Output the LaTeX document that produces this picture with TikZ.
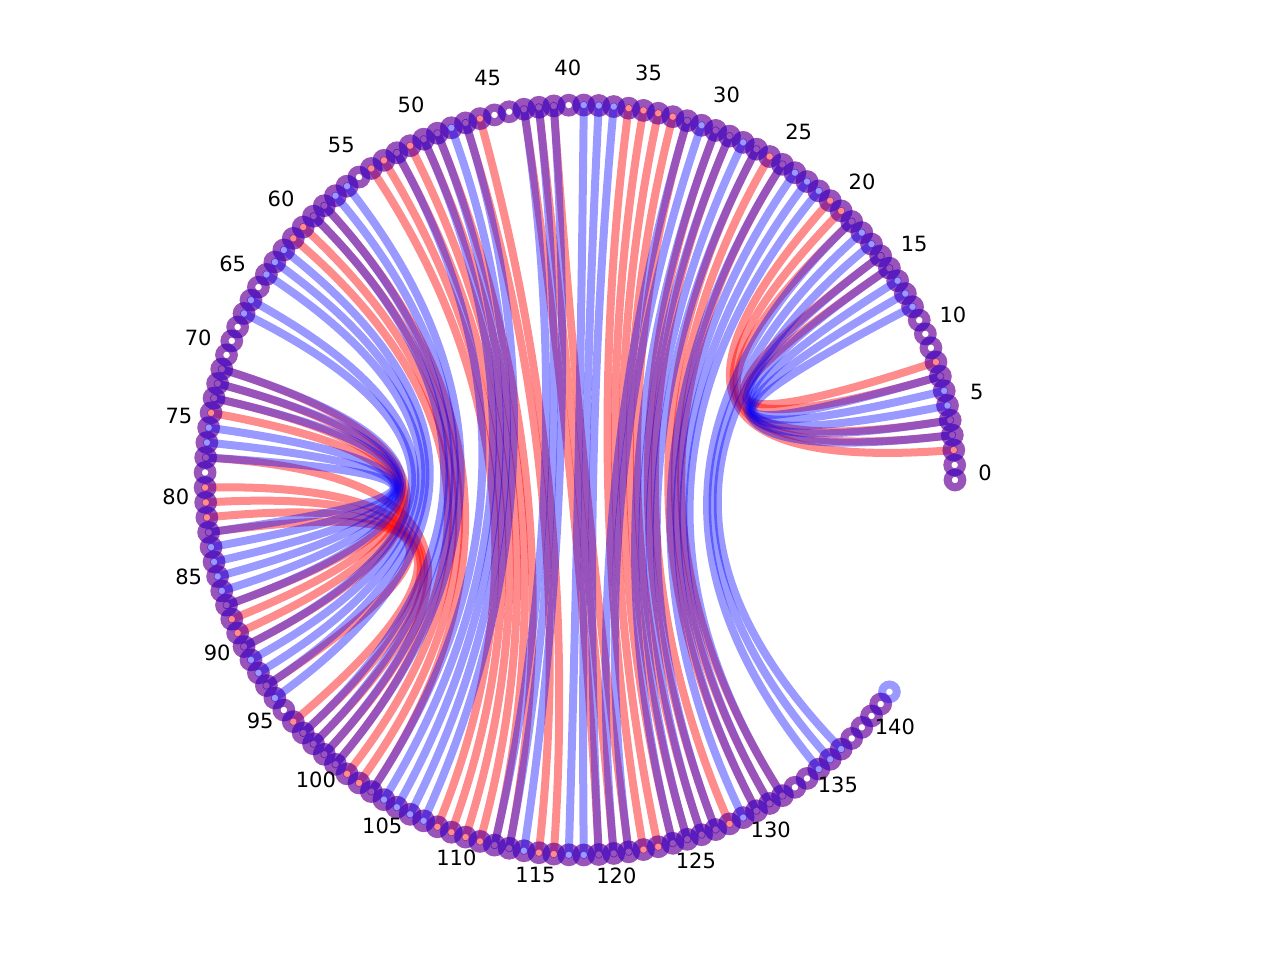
\documentclass[tikz,border=0pt]{standalone}
\usepackage{fontspec}
\setmainfont{DejaVu Sans}
\begin{document}
\begin{tikzpicture}[x=0.5pt,y=0.5pt,
  redchord/.style={draw=red, draw opacity=0.45, line width=4pt, line cap=round},
  bluechord/.style={draw=blue, draw opacity=0.4, line width=4pt, line cap=round},
  redring/.style={draw=red, draw opacity=0.45, line width=4pt},
  bluering/.style={draw=blue, draw opacity=0.4, line width=4pt},
  lbl/.style={font=\fontsize{10.5}{12}\selectfont, inner sep=0pt}]
\useasboundingbox (0,0) rectangle (1280,960);
\begin{scope}[shift={(580,480)}]
\coordinate (c) at (0,0);
\foreach \i in {0,...,142}{
  \pgfmathsetmacro{\a}{\i*2.293}
  \coordinate (n\i) at (\a:375);
  \coordinate (k\i) at (\a:125);
}
% red chords
\foreach \p/\q in {2/21,3/20,4/19,7/16,8/15,
  25/132,26/131,27/130,29/128,30/127,32/126,33/125,34/124,35/123,36/122,
  41/121,42/120,43/119,46/116,47/115,49/113,50/112,51/111,52/110,53/109,54/108,
  58/103,59/102,60/101,61/100,
  71/90,72/89,73/88,74/87,
  77/99,79/98,80/97,81/96,82/93}
  \draw[redchord] (n\p) .. controls (k\p) and (k\q) .. (n\q);
% red rings
\foreach \i in {0,...,141}
  \draw[redring] (n\i) circle (7.3);
% blue chords
\foreach \p/\q in {3/16,4/15,5/14,6/13,7/12,
  17/137,18/136,19/135,
  22/132,23/131,24/130,25/129,27/127,28/126,29/125,30/124,31/121,32/120,
  37/119,38/118,39/117,41/114,42/113,43/112,47/107,48/106,49/105,50/104,
  52/103,56/100,57/99,58/98,59/97,62/94,63/93,64/92,66/91,67/90,
  71/87,72/86,73/85,75/84,76/83,77/82}
  \draw[bluechord] (n\p) .. controls (k\p) and (k\q) .. (n\q);
% blue rings
\foreach \i in {0,...,142}
  \draw[bluering] (n\i) circle (7.3);
% labels
\foreach \i in {0,5,...,140}{
  \pgfmathsetmacro{\a}{\i*2.293}
  \node[lbl] (l\i) at ([yshift=3.75pt]\a:405) {\i};
}
\end{scope}
\end{tikzpicture}
\end{document}
